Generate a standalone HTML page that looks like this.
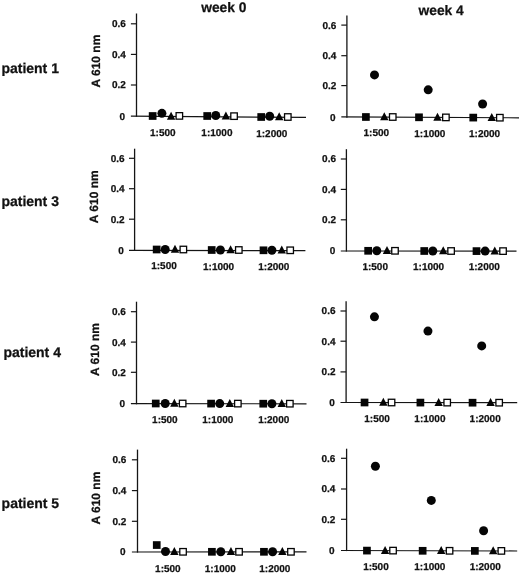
<!DOCTYPE html><html><head><meta charset="utf-8"><style>html,body{margin:0;padding:0;background:#fff;}svg{display:block;will-change:transform;}text{font-family:"Liberation Sans",sans-serif;font-weight:bold;fill:#111;stroke:#111;stroke-width:0.25px;text-rendering:geometricPrecision;}</style></head><body>
<svg width="520" height="573" viewBox="0 0 520 573">
<rect width="520" height="573" fill="#fff"/>
<line x1="136.5" y1="13.5" x2="136.5" y2="116.8" stroke="#151515" stroke-width="1.3"/>
<line x1="130.90" y1="23.8" x2="136.5" y2="23.8" stroke="#151515" stroke-width="1.2"/>
<line x1="130.90" y1="54.4" x2="136.5" y2="54.4" stroke="#151515" stroke-width="1.2"/>
<line x1="130.90" y1="85.0" x2="136.5" y2="85.0" stroke="#151515" stroke-width="1.2"/>
<line x1="130.90" y1="116.2" x2="306" y2="117.4" stroke="#151515" stroke-width="1.2"/>
<text x="125.80" y="27.20" font-size="10.0" text-anchor="end">0.6</text>
<text x="125.80" y="57.80" font-size="10.0" text-anchor="end">0.4</text>
<text x="125.80" y="88.40" font-size="10.0" text-anchor="end">0.2</text>
<text x="125.00" y="119.60" font-size="10.0" text-anchor="end">0</text>
<rect x="148.80" y="112.15" width="7.7" height="7.7" fill="#050505"/>
<circle cx="161.90" cy="113.35" r="4.5" fill="#050505"/>
<polygon points="166.90,119.70 175.30,119.70 171.10,111.70" fill="#050505"/>
<rect x="176.10" y="112.65" width="6.50" height="6.50" fill="#fff" stroke="#050505" stroke-width="1.3"/>
<rect x="203.35" y="112.15" width="7.7" height="7.7" fill="#050505"/>
<circle cx="215.75" cy="115.50" r="4.5" fill="#050505"/>
<polygon points="221.70,119.40 230.10,119.40 225.90,111.40" fill="#050505"/>
<rect x="230.80" y="112.90" width="6.50" height="6.50" fill="#fff" stroke="#050505" stroke-width="1.3"/>
<rect x="257.35" y="113.15" width="7.7" height="7.7" fill="#050505"/>
<circle cx="269.70" cy="116.20" r="4.5" fill="#050505"/>
<polygon points="275.00,120.30 283.40,120.30 279.20,112.30" fill="#050505"/>
<rect x="284.55" y="113.75" width="6.50" height="6.50" fill="#fff" stroke="#050505" stroke-width="1.3"/>
<text x="150.05" y="136.0" font-size="10.0">1:500</text>
<text x="201.35" y="136.3" font-size="10.0">1:1000</text>
<text x="256.2" y="136.5" font-size="10.0">1:2000</text>
<line x1="346.9" y1="15.4" x2="346.9" y2="117.69999999999999" stroke="#151515" stroke-width="1.3"/>
<line x1="341.30" y1="25.1" x2="346.9" y2="25.1" stroke="#151515" stroke-width="1.2"/>
<line x1="341.30" y1="55.7" x2="346.9" y2="55.7" stroke="#151515" stroke-width="1.2"/>
<line x1="341.30" y1="85.6" x2="346.9" y2="85.6" stroke="#151515" stroke-width="1.2"/>
<line x1="341.30" y1="116.9" x2="519" y2="117.8" stroke="#151515" stroke-width="1.2"/>
<text x="336.30" y="28.50" font-size="10.0" text-anchor="end">0.6</text>
<text x="336.30" y="59.10" font-size="10.0" text-anchor="end">0.4</text>
<text x="336.30" y="89.00" font-size="10.0" text-anchor="end">0.2</text>
<text x="335.50" y="120.50" font-size="10.0" text-anchor="end">0</text>
<rect x="362.05" y="113.15" width="7.7" height="7.7" fill="#050505"/>
<circle cx="374.50" cy="74.90" r="4.5" fill="#050505"/>
<polygon points="380.10,120.30 388.50,120.30 384.30,112.30" fill="#050505"/>
<rect x="389.50" y="113.75" width="6.50" height="6.50" fill="#fff" stroke="#050505" stroke-width="1.3"/>
<rect x="415.15" y="113.45" width="7.7" height="7.7" fill="#050505"/>
<circle cx="428.20" cy="89.85" r="4.5" fill="#050505"/>
<polygon points="433.30,120.70 441.70,120.70 437.50,112.70" fill="#050505"/>
<rect x="442.65" y="114.15" width="6.50" height="6.50" fill="#fff" stroke="#050505" stroke-width="1.3"/>
<rect x="469.40" y="113.75" width="7.7" height="7.7" fill="#050505"/>
<circle cx="482.60" cy="104.05" r="4.5" fill="#050505"/>
<polygon points="487.55,120.90 495.95,120.90 491.75,112.90" fill="#050505"/>
<rect x="496.60" y="114.45" width="6.50" height="6.50" fill="#fff" stroke="#050505" stroke-width="1.3"/>
<text x="363.5" y="136.0" font-size="10.0">1:500</text>
<text x="414.25" y="137.0" font-size="10.0">1:1000</text>
<text x="469.05" y="137.0" font-size="10.0">1:2000</text>
<line x1="134.6" y1="148.7" x2="134.6" y2="251.0" stroke="#151515" stroke-width="1.3"/>
<line x1="129.00" y1="158.3" x2="134.6" y2="158.3" stroke="#151515" stroke-width="1.2"/>
<line x1="129.00" y1="188.7" x2="134.6" y2="188.7" stroke="#151515" stroke-width="1.2"/>
<line x1="129.00" y1="219.2" x2="134.6" y2="219.2" stroke="#151515" stroke-width="1.2"/>
<line x1="129.00" y1="250.4" x2="305.4" y2="250.6" stroke="#151515" stroke-width="1.2"/>
<text x="124.70" y="161.70" font-size="10.0" text-anchor="end">0.6</text>
<text x="124.70" y="192.10" font-size="10.0" text-anchor="end">0.4</text>
<text x="124.70" y="222.60" font-size="10.0" text-anchor="end">0.2</text>
<text x="123.90" y="253.80" font-size="10.0" text-anchor="end">0</text>
<rect x="152.80" y="245.65" width="7.7" height="7.7" fill="#050505"/>
<circle cx="165.20" cy="249.50" r="4.5" fill="#050505"/>
<polygon points="170.80,252.80 179.20,252.80 175.00,244.80" fill="#050505"/>
<rect x="180.10" y="246.25" width="6.50" height="6.50" fill="#fff" stroke="#050505" stroke-width="1.3"/>
<rect x="207.85" y="246.15" width="7.7" height="7.7" fill="#050505"/>
<circle cx="220.40" cy="250.00" r="4.5" fill="#050505"/>
<polygon points="226.40,253.30 234.80,253.30 230.60,245.30" fill="#050505"/>
<rect x="235.55" y="246.75" width="6.50" height="6.50" fill="#fff" stroke="#050505" stroke-width="1.3"/>
<rect x="259.65" y="246.45" width="7.7" height="7.7" fill="#050505"/>
<circle cx="271.90" cy="250.30" r="4.5" fill="#050505"/>
<polygon points="277.55,253.60 285.95,253.60 281.75,245.60" fill="#050505"/>
<rect x="286.95" y="247.05" width="6.50" height="6.50" fill="#fff" stroke="#050505" stroke-width="1.3"/>
<text x="151.2" y="269.0" font-size="10.0">1:500</text>
<text x="203.0" y="269.7" font-size="10.0">1:1000</text>
<text x="258.3" y="269.7" font-size="10.0">1:2000</text>
<line x1="346.4" y1="149.2" x2="346.4" y2="251.6" stroke="#151515" stroke-width="1.3"/>
<line x1="340.80" y1="159" x2="346.4" y2="159" stroke="#151515" stroke-width="1.2"/>
<line x1="340.80" y1="189.4" x2="346.4" y2="189.4" stroke="#151515" stroke-width="1.2"/>
<line x1="340.80" y1="219.8" x2="346.4" y2="219.8" stroke="#151515" stroke-width="1.2"/>
<line x1="340.80" y1="251" x2="516.5" y2="251.2" stroke="#151515" stroke-width="1.2"/>
<text x="336.00" y="162.40" font-size="10.0" text-anchor="end">0.6</text>
<text x="336.00" y="192.80" font-size="10.0" text-anchor="end">0.4</text>
<text x="336.00" y="223.20" font-size="10.0" text-anchor="end">0.2</text>
<text x="335.20" y="254.40" font-size="10.0" text-anchor="end">0</text>
<rect x="364.30" y="246.95" width="7.7" height="7.7" fill="#050505"/>
<circle cx="376.80" cy="250.80" r="4.5" fill="#050505"/>
<polygon points="382.80,254.10 391.20,254.10 387.00,246.10" fill="#050505"/>
<rect x="391.75" y="247.55" width="6.50" height="6.50" fill="#fff" stroke="#050505" stroke-width="1.3"/>
<rect x="420.40" y="247.15" width="7.7" height="7.7" fill="#050505"/>
<circle cx="432.80" cy="251.00" r="4.5" fill="#050505"/>
<polygon points="439.05,254.30 447.45,254.30 443.25,246.30" fill="#050505"/>
<rect x="447.85" y="247.75" width="6.50" height="6.50" fill="#fff" stroke="#050505" stroke-width="1.3"/>
<rect x="472.65" y="247.25" width="7.7" height="7.7" fill="#050505"/>
<circle cx="485.15" cy="251.10" r="4.5" fill="#050505"/>
<polygon points="490.55,254.40 498.95,254.40 494.75,246.40" fill="#050505"/>
<rect x="499.80" y="247.85" width="6.50" height="6.50" fill="#fff" stroke="#050505" stroke-width="1.3"/>
<text x="362.4" y="269.9" font-size="10.0">1:500</text>
<text x="413.05" y="270.2" font-size="10.0">1:1000</text>
<text x="468.7" y="270.2" font-size="10.0">1:2000</text>
<line x1="136.5" y1="301.7" x2="136.5" y2="404.3" stroke="#151515" stroke-width="1.3"/>
<line x1="130.90" y1="311.7" x2="136.5" y2="311.7" stroke="#151515" stroke-width="1.2"/>
<line x1="130.90" y1="342.1" x2="136.5" y2="342.1" stroke="#151515" stroke-width="1.2"/>
<line x1="130.90" y1="372.3" x2="136.5" y2="372.3" stroke="#151515" stroke-width="1.2"/>
<line x1="130.90" y1="403.7" x2="306.5" y2="403.8" stroke="#151515" stroke-width="1.2"/>
<text x="125.80" y="315.10" font-size="10.0" text-anchor="end">0.6</text>
<text x="125.80" y="345.50" font-size="10.0" text-anchor="end">0.4</text>
<text x="125.80" y="375.70" font-size="10.0" text-anchor="end">0.2</text>
<text x="125.00" y="407.10" font-size="10.0" text-anchor="end">0</text>
<rect x="151.90" y="399.65" width="7.7" height="7.7" fill="#050505"/>
<circle cx="165.20" cy="403.50" r="4.5" fill="#050505"/>
<polygon points="170.15,406.80 178.55,406.80 174.35,398.80" fill="#050505"/>
<rect x="179.40" y="400.25" width="6.50" height="6.50" fill="#fff" stroke="#050505" stroke-width="1.3"/>
<rect x="207.25" y="399.75" width="7.7" height="7.7" fill="#050505"/>
<circle cx="219.75" cy="403.60" r="4.5" fill="#050505"/>
<polygon points="225.60,406.90 234.00,406.90 229.80,398.90" fill="#050505"/>
<rect x="234.60" y="400.35" width="6.50" height="6.50" fill="#fff" stroke="#050505" stroke-width="1.3"/>
<rect x="259.40" y="399.85" width="7.7" height="7.7" fill="#050505"/>
<circle cx="271.90" cy="403.70" r="4.5" fill="#050505"/>
<polygon points="277.55,407.00 285.95,407.00 281.75,399.00" fill="#050505"/>
<rect x="286.60" y="400.45" width="6.50" height="6.50" fill="#fff" stroke="#050505" stroke-width="1.3"/>
<text x="152.1" y="422.6" font-size="10.0">1:500</text>
<text x="202.3" y="422.8" font-size="10.0">1:1000</text>
<text x="258.15" y="422.8" font-size="10.0">1:2000</text>
<line x1="346.1" y1="301.2" x2="346.1" y2="403.1" stroke="#151515" stroke-width="1.3"/>
<line x1="340.50" y1="311" x2="346.1" y2="311" stroke="#151515" stroke-width="1.2"/>
<line x1="340.50" y1="341.2" x2="346.1" y2="341.2" stroke="#151515" stroke-width="1.2"/>
<line x1="340.50" y1="371.9" x2="346.1" y2="371.9" stroke="#151515" stroke-width="1.2"/>
<line x1="340.50" y1="402.5" x2="517.2" y2="402.7" stroke="#151515" stroke-width="1.2"/>
<text x="335.50" y="314.40" font-size="10.0" text-anchor="end">0.6</text>
<text x="335.50" y="344.60" font-size="10.0" text-anchor="end">0.4</text>
<text x="335.50" y="375.30" font-size="10.0" text-anchor="end">0.2</text>
<text x="334.70" y="405.90" font-size="10.0" text-anchor="end">0</text>
<rect x="360.70" y="398.65" width="7.7" height="7.7" fill="#050505"/>
<circle cx="374.45" cy="316.85" r="4.5" fill="#050505"/>
<polygon points="379.15,405.80 387.55,405.80 383.35,397.80" fill="#050505"/>
<rect x="388.30" y="399.25" width="6.50" height="6.50" fill="#fff" stroke="#050505" stroke-width="1.3"/>
<rect x="416.55" y="398.75" width="7.7" height="7.7" fill="#050505"/>
<circle cx="427.95" cy="331.10" r="4.5" fill="#050505"/>
<polygon points="434.45,405.90 442.85,405.90 438.65,397.90" fill="#050505"/>
<rect x="443.95" y="399.35" width="6.50" height="6.50" fill="#fff" stroke="#050505" stroke-width="1.3"/>
<rect x="468.70" y="398.85" width="7.7" height="7.7" fill="#050505"/>
<circle cx="481.70" cy="345.90" r="4.5" fill="#050505"/>
<polygon points="486.35,406.00 494.75,406.00 490.55,398.00" fill="#050505"/>
<rect x="495.90" y="399.45" width="6.50" height="6.50" fill="#fff" stroke="#050505" stroke-width="1.3"/>
<text x="364.3" y="422.1" font-size="10.0">1:500</text>
<text x="414.35" y="421.8" font-size="10.0">1:1000</text>
<text x="469.6" y="421.8" font-size="10.0">1:2000</text>
<line x1="137.5" y1="449.6" x2="137.5" y2="552.6" stroke="#151515" stroke-width="1.3"/>
<line x1="131.90" y1="459.8" x2="137.5" y2="459.8" stroke="#151515" stroke-width="1.2"/>
<line x1="131.90" y1="490.6" x2="137.5" y2="490.6" stroke="#151515" stroke-width="1.2"/>
<line x1="131.90" y1="521.3" x2="137.5" y2="521.3" stroke="#151515" stroke-width="1.2"/>
<line x1="131.90" y1="552" x2="306.5" y2="551.8" stroke="#151515" stroke-width="1.2"/>
<text x="126.40" y="463.20" font-size="10.0" text-anchor="end">0.6</text>
<text x="126.40" y="494.00" font-size="10.0" text-anchor="end">0.4</text>
<text x="126.40" y="524.70" font-size="10.0" text-anchor="end">0.2</text>
<text x="125.60" y="555.40" font-size="10.0" text-anchor="end">0</text>
<rect x="152.90" y="541.20" width="7.7" height="7.7" fill="#050505"/>
<circle cx="165.50" cy="551.50" r="4.5" fill="#050505"/>
<polygon points="170.15,555.10 178.55,555.10 174.35,547.10" fill="#050505"/>
<rect x="179.80" y="548.55" width="6.50" height="6.50" fill="#fff" stroke="#050505" stroke-width="1.3"/>
<rect x="208.05" y="547.95" width="7.7" height="7.7" fill="#050505"/>
<circle cx="220.80" cy="551.80" r="4.5" fill="#050505"/>
<polygon points="226.75,555.10 235.15,555.10 230.95,547.10" fill="#050505"/>
<rect x="235.80" y="548.55" width="6.50" height="6.50" fill="#fff" stroke="#050505" stroke-width="1.3"/>
<rect x="260.10" y="547.95" width="7.7" height="7.7" fill="#050505"/>
<circle cx="272.60" cy="551.80" r="4.5" fill="#050505"/>
<polygon points="278.15,555.10 286.55,555.10 282.35,547.10" fill="#050505"/>
<rect x="287.70" y="548.55" width="6.50" height="6.50" fill="#fff" stroke="#050505" stroke-width="1.3"/>
<text x="155.1" y="571.6" font-size="10.0">1:500</text>
<text x="204.8" y="572.1" font-size="10.0">1:1000</text>
<text x="259.25" y="572.1" font-size="10.0">1:2000</text>
<line x1="346.6" y1="448.7" x2="346.6" y2="551.1" stroke="#151515" stroke-width="1.3"/>
<line x1="341.00" y1="458.3" x2="346.6" y2="458.3" stroke="#151515" stroke-width="1.2"/>
<line x1="341.00" y1="489" x2="346.6" y2="489" stroke="#151515" stroke-width="1.2"/>
<line x1="341.00" y1="519.3" x2="346.6" y2="519.3" stroke="#151515" stroke-width="1.2"/>
<line x1="341.00" y1="550.5" x2="517.2" y2="551" stroke="#151515" stroke-width="1.2"/>
<text x="335.40" y="461.70" font-size="10.0" text-anchor="end">0.6</text>
<text x="335.40" y="492.40" font-size="10.0" text-anchor="end">0.4</text>
<text x="335.40" y="522.70" font-size="10.0" text-anchor="end">0.2</text>
<text x="334.60" y="553.90" font-size="10.0" text-anchor="end">0</text>
<rect x="363.10" y="546.75" width="7.7" height="7.7" fill="#050505"/>
<circle cx="375.40" cy="466.30" r="4.5" fill="#050505"/>
<polygon points="380.90,553.90 389.30,553.90 385.10,545.90" fill="#050505"/>
<rect x="389.80" y="547.35" width="6.50" height="6.50" fill="#fff" stroke="#050505" stroke-width="1.3"/>
<rect x="418.80" y="546.95" width="7.7" height="7.7" fill="#050505"/>
<circle cx="431.30" cy="500.40" r="4.5" fill="#050505"/>
<polygon points="437.00,554.10 445.40,554.10 441.20,546.10" fill="#050505"/>
<rect x="446.30" y="547.55" width="6.50" height="6.50" fill="#fff" stroke="#050505" stroke-width="1.3"/>
<rect x="471.00" y="547.05" width="7.7" height="7.7" fill="#050505"/>
<circle cx="483.60" cy="530.75" r="4.5" fill="#050505"/>
<polygon points="489.00,554.20 497.40,554.20 493.20,546.20" fill="#050505"/>
<rect x="498.10" y="547.65" width="6.50" height="6.50" fill="#fff" stroke="#050505" stroke-width="1.3"/>
<text x="363.15" y="569.6" font-size="10.0">1:500</text>
<text x="414.25" y="570.1" font-size="10.0">1:1000</text>
<text x="469.65" y="570.1" font-size="10.0">1:2000</text>
<text transform="translate(100.00,87.6) rotate(-90)" font-size="12">A 610 nm</text>
<text transform="translate(97.75,223.2) rotate(-90)" font-size="12">A 610 nm</text>
<text transform="translate(98.75,376) rotate(-90)" font-size="12">A 610 nm</text>
<text transform="translate(99.75,524.6) rotate(-90)" font-size="12">A 610 nm</text>
<text x="1.4" y="73.2" font-size="14">patient 1</text>
<text x="1.4" y="205.5" font-size="14">patient 3</text>
<text x="3.4" y="357.4" font-size="14">patient 4</text>
<text x="1.6" y="508.3" font-size="14">patient 5</text>
<text x="201.2" y="12.2" font-size="13.8">week 0</text>
<text x="418.5" y="14.6" font-size="13.8">week 4</text>
</svg></body></html>
